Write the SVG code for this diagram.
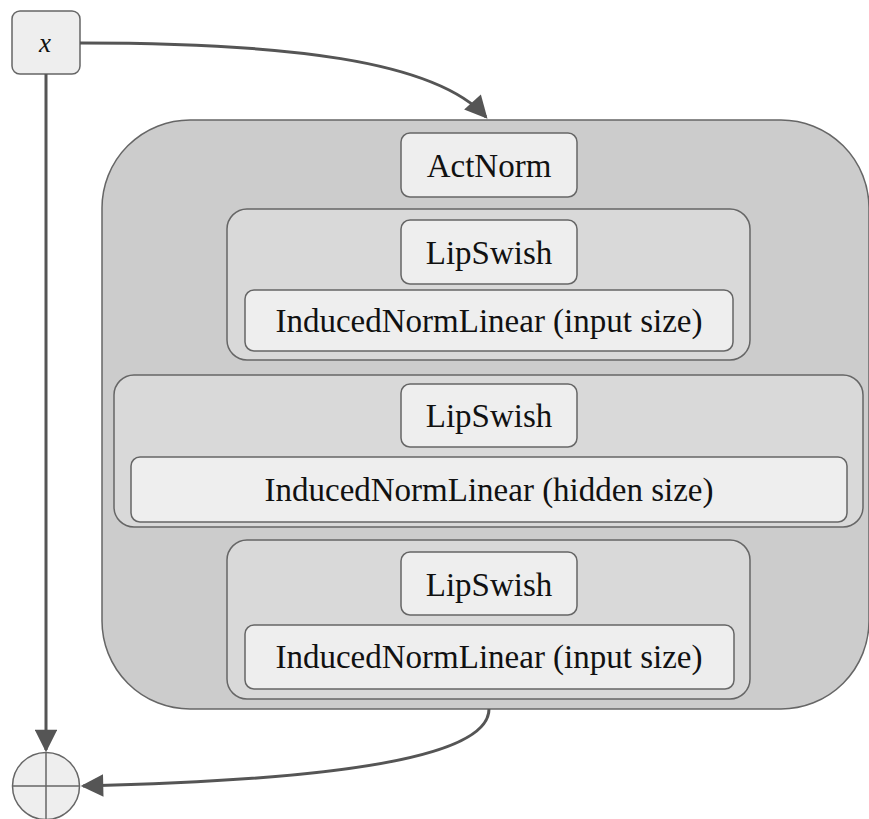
<svg xmlns="http://www.w3.org/2000/svg" width="869" height="819" viewBox="0 0 869 819">
  <style>
    .block { fill: #cccccc; stroke: #666666; stroke-width: 1.5; }
    .group { fill: #d9d9d9; stroke: #666666; stroke-width: 1.5; }
    .node { fill: #eeeeee; stroke: #666666; stroke-width: 1.5; }
    .label { font-family: "Liberation Serif", "Times New Roman", serif; font-size: 33px; fill: #111111; text-anchor: middle; }
    .math { font-family: "Liberation Serif", "Times New Roman", serif; font-style: italic; font-size: 27px; fill: #111111; text-anchor: middle; }
    .edge { fill: none; stroke: #555555; stroke-width: 3; }
  </style>
  <defs>
    <marker id="arrow" viewBox="0 0 10 10" refX="9" refY="5" markerWidth="10" markerHeight="7.5" markerUnits="strokeWidth" orient="auto">
      <path d="M0,0 L10,5 L0,10 z" fill="#555555"/>
    </marker>
    <marker id="arrowThin" viewBox="0 0 10 10" refX="9" refY="5" markerWidth="9.5" markerHeight="7.5" markerUnits="strokeWidth" orient="auto">
      <path d="M0,0 L10,5 L0,10 z" fill="#555555"/>
    </marker>
  </defs>

  <!-- residual block container -->
  <g id="block">
    <rect class="block" x="102" y="120" width="767" height="589" rx="88" ry="88"/>
  </g>

  <g id="actnorm">
    <rect class="node" x="401" y="133" width="176" height="64" rx="9"/>
    <text class="label" x="489" y="176.5">ActNorm</text>
  </g>

  <g id="layer1">
    <rect class="group" x="227" y="209" width="523" height="151" rx="20"/>
    <g id="layer1-act">
      <rect class="node" x="401" y="220" width="176" height="64" rx="9"/>
      <text class="label" x="489" y="263.5">LipSwish</text>
    </g>
    <g id="layer1-linear">
      <rect class="node" x="245" y="290" width="488" height="61" rx="9"/>
      <text class="label" x="489" y="332">InducedNormLinear (input size)</text>
    </g>
  </g>

  <g id="layer2">
    <rect class="group" x="114" y="375" width="749" height="152" rx="20"/>
    <g id="layer2-act">
      <rect class="node" x="401" y="384" width="176" height="63" rx="9"/>
      <text class="label" x="489" y="427">LipSwish</text>
    </g>
    <g id="layer2-linear">
      <rect class="node" x="131" y="457" width="716" height="65" rx="9"/>
      <text class="label" x="489" y="501">InducedNormLinear (hidden size)</text>
    </g>
  </g>

  <g id="layer3">
    <rect class="group" x="227" y="540" width="523" height="159" rx="20"/>
    <g id="layer3-act">
      <rect class="node" x="401" y="552" width="176" height="63" rx="9"/>
      <text class="label" x="489" y="595.5">LipSwish</text>
    </g>
    <g id="layer3-linear">
      <rect class="node" x="245" y="625" width="489" height="64" rx="9"/>
      <text class="label" x="489" y="668">InducedNormLinear (input size)</text>
    </g>
  </g>

  <!-- input node -->
  <g id="input">
    <rect class="node" x="12" y="11" width="68" height="63" rx="8"/>
    <text class="math" x="45" y="52">x</text>
  </g>

  <!-- sum node -->
  <g id="sum">
    <circle class="node" cx="46" cy="786" r="33.5"/>
    <line x1="12.5" y1="786" x2="79.5" y2="786" stroke="#666666" stroke-width="1.5"/>
    <line x1="46" y1="752.5" x2="46" y2="819.5" stroke="#666666" stroke-width="1.5"/>
  </g>

  <!-- connectors -->
  <g id="edges">
    <path class="edge" d="M80,43 C285,43 435,60 486,117" marker-end="url(#arrow)"/>
    <path class="edge" d="M46,74 L46,750" stroke-width="2" marker-end="url(#arrowThin)"/>
    <path class="edge" d="M489,709 C489,748 390,779 83,786" marker-end="url(#arrow)"/>
  </g>
</svg>
